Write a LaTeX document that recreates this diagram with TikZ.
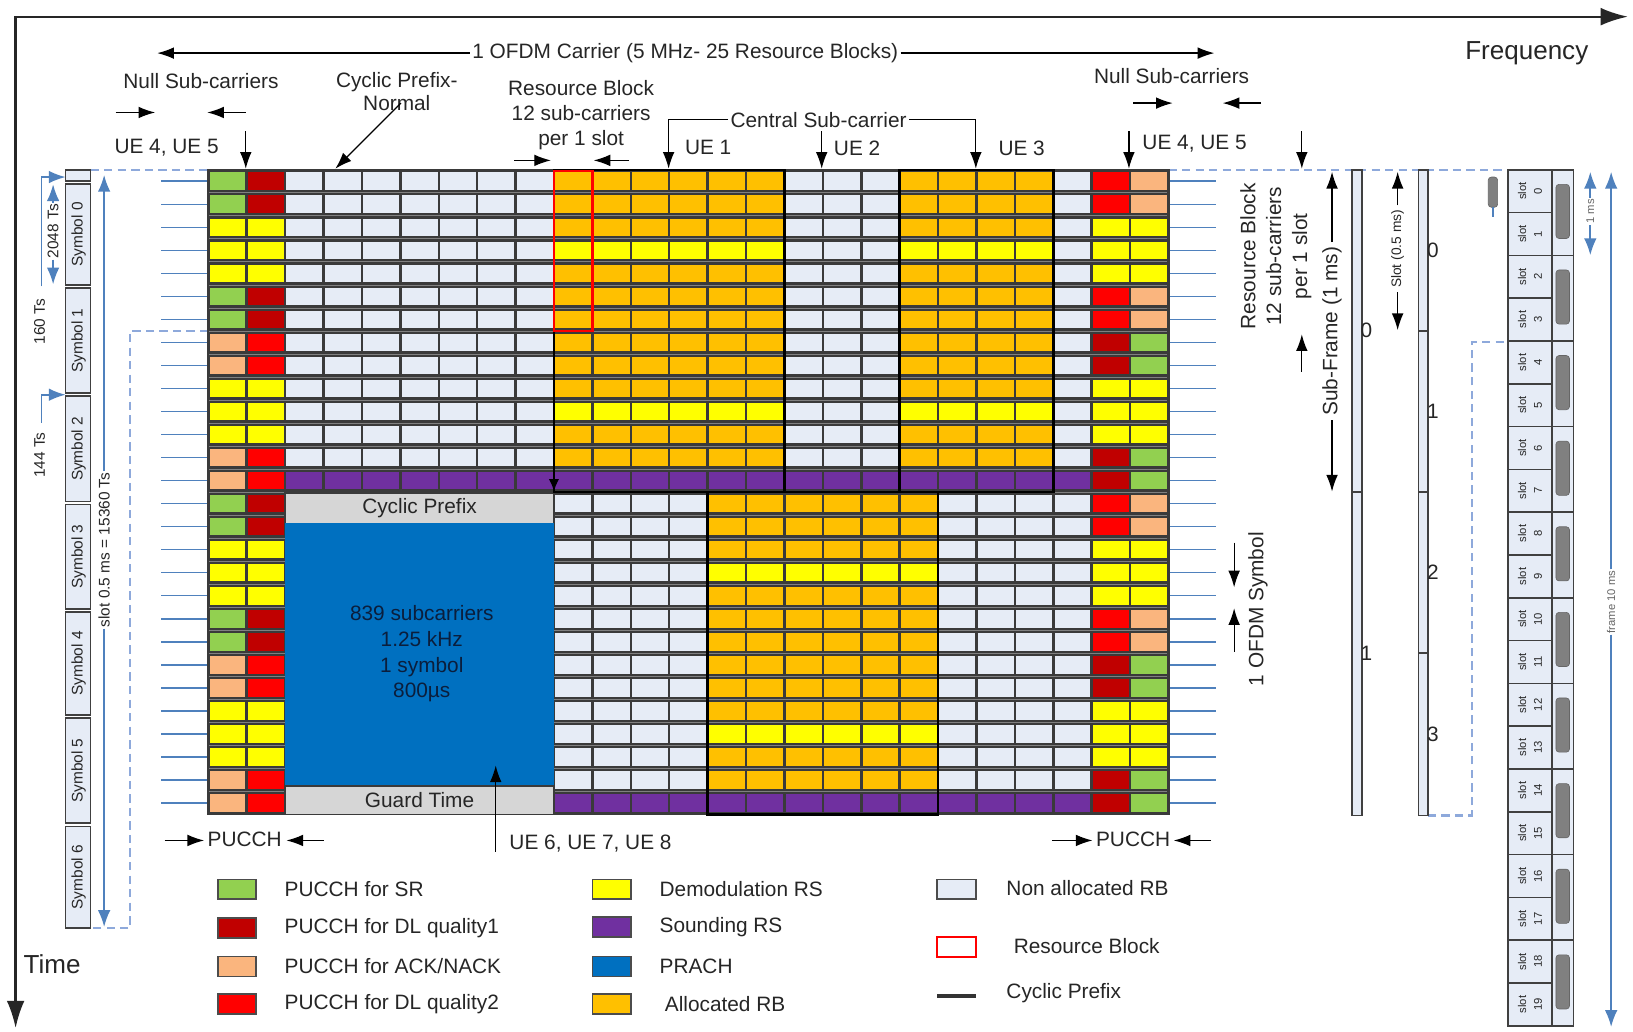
\documentclass[tikz,border=0pt]{standalone}
\usepackage{fontspec}
\setmainfont{Liberation Sans}
\usetikzlibrary{arrows.meta}
\definecolor{cSR}{HTML}{92D050}
\definecolor{cDQa}{HTML}{C00000}
\definecolor{cACK}{HTML}{FAB57E}
\definecolor{cDQb}{HTML}{FF0000}
\definecolor{cDM}{HTML}{FFFF00}
\definecolor{cSND}{HTML}{7030A0}
\definecolor{cPR}{HTML}{0070C0}
\definecolor{cAL}{HTML}{FFC000}
\definecolor{cNA}{HTML}{E6ECF6}
\definecolor{cGR}{HTML}{D6D6D6}
\definecolor{cBL}{HTML}{4F81BD}
\definecolor{cDS}{HTML}{8EA9DB}
\definecolor{cBG}{HTML}{3A3A3A}
\definecolor{cTX}{HTML}{262626}
\definecolor{cPT}{HTML}{0B1E3C}
\newcommand\gcw{36.88}
\newcommand\grh{22.107}
\newcommand\cellat[3]{\path[fill=#3] ({200+#1*\gcw+1.2},{163+#2*\grh+2.6}) rectangle ({200+(#1+1)*\gcw-1.2},{163+(#2+1)*\grh-2.6});}
\tikzset{
  lbl/.style={font=\fontsize{10}{12}\selectfont, text=cTX, inner sep=1pt},
  big/.style={font=\fontsize{12.5}{14}\selectfont, text=cTX, inner sep=1pt},
  leg/.style={font=\fontsize{10}{12}\selectfont, text=cTX, anchor=west, inner sep=0pt},
  sml/.style={font=\fontsize{7.4}{8.5}\selectfont, text=cTX, inner sep=1pt},
  tny/.style={font=\fontsize{5.4}{7.6}\selectfont, text=cTX, inner sep=0.5pt},
  arr/.style={-{Latex[length=8pt,width=5.6pt]}, line width=0.6pt, black},
  axisline/.style={{Latex[length=13pt,width=8.5pt]}-{Latex[length=13pt,width=8.5pt]}, line width=1.1pt, black!85},
  barr/.style={-{Latex[length=8pt,width=6pt]}, line width=0.8pt, cBL},
  dsh/.style={cDS, line width=1pt, dash pattern=on 4pt off 2.5pt},
  swatch/.style={draw=black!70, line width=0.8pt},
  cellbox/.style={draw=black!75, line width=0.8pt, fill=cNA},
  hatch/.style={fill=black!50, draw=black!60, line width=0.3pt, rounded corners=1.5pt},
  gline/.style={cBL, line width=0.75pt},
}
\begin{document}
\begin{tikzpicture}[x=0.5pt,y=-0.5pt]
\useasboundingbox (0,0) rectangle (1568,990);
\fill[white] (0,0) rectangle (1568,990);

% ---------------- axes
\coordinate (org) at (15,16);
\coordinate (fend) at (1563,16);
\coordinate (tend) at (15,987);
\draw[axisline] (tend) -- (org) -- (fend);
\node[big] (freq) at (1466,51) {Frequency};
\node[big] (time) at (50,926) {Time};

% ---------------- top labels
\node[lbl] (ofdm) at (658,51) {1 OFDM Carrier (5 MHz- 25 Resource Blocks)};
\coordinate (ofl) at (151,51); \coordinate (ofr) at (1166,51);
\draw[arr] (ofdm.west) -- (ofl);
\draw[arr] (ofdm.east) -- (ofr);

\node[lbl] (nsl) at (193,78) {Null Sub-carriers};
\coordinate (nsa1) at (111,108); \coordinate (nsa2) at (149,108);
\coordinate (nsb1) at (236,108); \coordinate (nsb2) at (199,108);
\draw[arr] (nsa1) -- (nsa2); \draw[arr] (nsb1) -- (nsb2);

\node[lbl, align=center, font=\fontsize{10}{11.2}\selectfont] (cpn) at (381,88) {Cyclic Prefix-\\Normal};
\coordinate (cpa) at (385,99); \coordinate (cpb) at (322,162);
\draw[arr] (cpa) -- (cpb);

\node[lbl, align=center] (rbt) at (558,111) {Resource Block\\12 sub-carriers\\per 1 slot};
\coordinate (rba1) at (494,154); \coordinate (rba2) at (529,154);
\coordinate (rbb1) at (604,154); \coordinate (rbb2) at (570,154);
\draw[arr] (rba1) -- (rba2); \draw[arr] (rbb1) -- (rbb2);

\node[lbl] (csc) at (786,115) {Central Sub-carrier};
\coordinate (csl) at (642,115); \coordinate (cslt) at (642,162);
\coordinate (csr) at (937,115); \coordinate (csrt) at (937,162);
\draw[arr] (csc.west) -- (csl) -- (cslt);
\draw[arr] (csc.east) -- (csr) -- (csrt);
\coordinate (ue2a) at (789,126); \coordinate (ue2b) at (789,162);
\draw[arr] (ue2a) -- (ue2b);

\node[lbl] (ue1) at (680,142) {UE 1};
\node[lbl] (ue2) at (823,142) {UE 2};
\node[lbl] (ue3) at (981,142) {UE 3};

\node[lbl] (ue45l) at (160,142) {UE 4, UE 5};
\coordinate (u45la) at (236,126); \coordinate (u45lb) at (236,162);
\draw[arr] (u45la) -- (u45lb);

\node[lbl] (ue45r) at (1147,138) {UE 4, UE 5};
\coordinate (u45ra) at (1084,126); \coordinate (u45rb) at (1084,162);
\draw[arr] (u45ra) -- (u45rb);

\node[lbl] (nsr) at (1125,73) {Null Sub-carriers};
\coordinate (nsc1) at (1088,99); \coordinate (nsc2) at (1126,99);
\coordinate (nsd1) at (1211,99); \coordinate (nsd2) at (1174,99);
\draw[arr] (nsc1) -- (nsc2); \draw[arr] (nsd1) -- (nsd2);

\coordinate (rbda) at (1250,126); \coordinate (rbdb) at (1250,162);
\draw[arr] (rbda) -- (rbdb);
\coordinate (rbua) at (1250,357); \coordinate (rbub) at (1250,321);
\draw[arr] (rbua) -- (rbub);
\node[lbl, rotate=90, align=center, font=\fontsize{10}{12.4}\selectfont] (rbv) at (1225,246) {Resource Block\\12 sub-carriers\\per 1 slot};

% ---------------- blue row lines
\foreach \ri in {0,...,27}{
  \draw[gline] (155,{163+(\ri+0.5)*\grh}) -- (200,{163+(\ri+0.5)*\grh});
  \draw[gline] (1122,{163+(\ri+0.5)*\grh}) -- (1168,{163+(\ri+0.5)*\grh});
}

% ---------------- dashed guides
\draw[dsh] (87,163) -- (200,163);
\draw[dsh] (1122,163) -- (1448,163);
\draw[dsh] (200,317.7) -- (125,317.7) -- (125,891) -- (87,891);
\draw[dsh] (1371,783) -- (1413,783) -- (1413,328) -- (1450,328);

% ---------------- grid
\fill[cBG] (200,163) rectangle (1122,782);
\foreach \ci in {0,...,24}{\foreach \ri in {0,...,27}{\cellat{\ci}{\ri}{cNA}}}
\foreach \g in {0,14}{%
 \foreach \k/\pA/\pB/\pC/\pD in {0/cSR/cDQa/cDQb/cACK,1/cSR/cDQa/cDQb/cACK,2/cDM/cDM/cDM/cDM,3/cDM/cDM/cDM/cDM,4/cDM/cDM/cDM/cDM,5/cSR/cDQa/cDQb/cACK,6/cSR/cDQa/cDQb/cACK,7/cACK/cDQb/cDQa/cSR,8/cACK/cDQb/cDQa/cSR,9/cDM/cDM/cDM/cDM,10/cDM/cDM/cDM/cDM,11/cDM/cDM/cDM/cDM,12/cACK/cDQb/cDQa/cSR,13/cACK/cDQb/cDQa/cSR}{%
  \pgfmathtruncatemacro\rr{\g+\k}%
  \cellat{0}{\rr}{\pA}\cellat{1}{\rr}{\pB}\cellat{23}{\rr}{\pC}\cellat{24}{\rr}{\pD}}}
% top half allocations
\foreach \ri in {0,1,2,4,5,6,7,8,9,11,12}{\foreach \ci in {9,10,11,12,13,14,18,19,20,21}{\cellat{\ci}{\ri}{cAL}}}
\foreach \ri in {3,10}{\foreach \ci in {9,10,11,12,13,14,18,19,20,21}{\cellat{\ci}{\ri}{cDM}}}
\foreach \ci in {2,...,22}{\cellat{\ci}{13}{cSND}}
% bottom half allocations
\foreach \ri in {14,15,16,18,19,20,21,22,23,25,26}{\foreach \ci in {13,...,18}{\cellat{\ci}{\ri}{cAL}}}
\foreach \ri in {17,24}{\foreach \ci in {13,...,18}{\cellat{\ci}{\ri}{cDM}}}
\foreach \ci in {9,...,22}{\cellat{\ci}{27}{cSND}}
% row separator light lines
\foreach \ri in {1,...,27}{\draw[black!50, line width=0.35pt] (200,{163+\ri*\grh}) -- (1122,{163+\ri*\grh});}
\draw[cBG, line width=1pt] (200,163) rectangle (1122,782);

% PRACH
\node[draw=cBG, line width=0.8pt, fill=cGR, minimum width=129pt, minimum height=14.5pt, inner sep=0pt, lbl] (prcp) at (402.85,488) {Cyclic Prefix};
\fill[cPR] (273.8,502.5) rectangle (531.9,755);
\node[draw=cBG, line width=0.8pt, fill=cGR, minimum width=129pt, minimum height=13.5pt, inner sep=0pt, lbl] (prgt) at (402.85,768.5) {Guard Time};
\node[lbl, align=center, text=cPT, font=\fontsize{10}{12.3}\selectfont] (prtx) at (405,628) {839 subcarriers\\1.25 kHz\\1 symbol\\800µs};

% UE block outlines and RB
\draw[black, line width=1.2pt] (531.9,163) rectangle (753.2,472.5);
\draw[black, line width=1.2pt] (863.8,163) rectangle (1011.4,472.5);
\draw[black, line width=1.2pt] (679.4,472.5) rectangle (900.7,782);
\draw[cDQb, line width=1.2pt] (531.9,164) rectangle (568.8,317.7);
\coordinate (ua1) at (531.9,440); \coordinate (ua2) at (531.9,472);
\draw[-{Latex[length=6pt,width=5pt]}, line width=1pt] (ua1) -- (ua2);

% ---------------- bottom labels
\node[lbl] (pucl) at (235,806) {PUCCH};
\coordinate (pla1) at (158,807); \coordinate (pla2) at (196,807);
\coordinate (plb1) at (311,807); \coordinate (plb2) at (275,807);
\draw[arr] (pla1) -- (pla2); \draw[arr] (plb1) -- (plb2);
\node[lbl] (pucr) at (1088,806) {PUCCH};
\coordinate (pra1) at (1010,807); \coordinate (pra2) at (1049,807);
\coordinate (prb1) at (1163,807); \coordinate (prb2) at (1127,807);
\draw[arr] (pra1) -- (pra2); \draw[arr] (prb1) -- (prb2);
\node[lbl] (ue678) at (567,810) {UE 6, UE 7, UE 8};
\coordinate (u6a) at (476,818); \coordinate (u6b) at (476,735);
\draw[arr] (u6a) -- (u6b);

% ---------------- legend
\foreach \y/\c/\t [count=\n] in {854/cSR/{PUCCH for SR}, 891/cDQa/{PUCCH for DL quality1}, 928/cACK/{PUCCH for ACK/NACK}, 964/cDQb/{PUCCH for DL quality2}}{
  \draw[swatch, fill=\c] (209,{\y-9.5}) rectangle (246,{\y+9.5});
  \node[leg] (lga\n) at (273,\y) {\t};
}
\foreach \y/\c/\t/\xx [count=\n] in {854/cDM/{Demodulation RS}/633, 890/cSND/{Sounding RS}/633, 928/cPR/{PRACH}/633, 964/cAL/{Allocated RB}/638}{
  \draw[swatch, fill=\c] (569,{\y-9.5}) rectangle (606,{\y+9.5});
  \node[leg] (lgb\n) at (\xx,\y) {\t};
}
\draw[swatch, fill=cNA] (900,844.5) rectangle (937,863.5);
\node[leg] (lgc1) at (966,853) {Non allocated RB};
\draw[cDQb, line width=1.1pt] (900,900) rectangle (937,919);
\node[leg] (lgc2) at (973,908) {Resource Block};
\draw[black!80, line width=2pt] (900,956) -- (937,956);
\node[leg] (lgc3) at (966,954) {Cyclic Prefix};

% ---------------- left symbol column
\draw[cellbox] (63,163) rectangle (87,174);
\foreach \k/\ya/\yb in {0/176.5/273.5,1/276.5/377.5,2/380.5/481.5,3/484.5/584.5,4/587.5/686.5,5/689.5/790.5,6/793.5/891}{
  \draw[cellbox] (63,\ya) rectangle (87,\yb);
  \node[sml, rotate=90] (sym\k) at (75.5,{(\ya+\yb)/2}) {Symbol \k};
}

% blue timing arrows left
\node[sml, rotate=90, fill=white, inner sep=0.5pt] (t2048) at (51,222) {2048 Ts};
\coordinate (t2a) at (51,177); \coordinate (t2b) at (51,273);
\draw[barr] (t2048.east) -- (t2a);
\draw[barr] (t2048.west) -- (t2b);
\coordinate (t160a) at (40,275); \coordinate (t160b) at (40,170); \coordinate (t160c) at (63,170);
\draw[barr] (t160a) -- (t160b) -- (t160c);
\node[sml, rotate=90] (t160) at (38,309) {160 Ts};
\coordinate (t144a) at (40,406); \coordinate (t144b) at (40,379); \coordinate (t144c) at (63,379);
\draw[barr] (t144a) -- (t144b) -- (t144c);
\node[sml, rotate=90] (t144) at (38,437) {144 Ts};
\node[sml, rotate=90, fill=white, inner sep=0.5pt] (tslot) at (100,528) {slot 0.5 ms = 15360 Ts};
\coordinate (tsa) at (100,168); \coordinate (tsb) at (100,890);
\draw[barr] (tslot.east) -- (tsa);
\draw[barr] (tslot.west) -- (tsb);

% ---------------- right: 1 OFDM symbol
\node[lbl, rotate=90] (ofs) at (1208,585) {1 OFDM Symbol};
\coordinate (ofa1) at (1185,521); \coordinate (ofa2) at (1185,564);
\coordinate (ofb1) at (1185,626); \coordinate (ofb2) at (1185,584);
\draw[arr] (ofa1) -- (ofa2); \draw[arr] (ofb1) -- (ofb2);

% sub-frame arrows & bar
\node[lbl, rotate=90, inner sep=2pt] (sfl) at (1279,318) {Sub-Frame (1 ms)};
\coordinate (sft) at (1279,165); \coordinate (sfb) at (1279,472);
\draw[arr] (sfl.east) -- (sft); \draw[arr] (sfl.west) -- (sfb);
\draw[cellbox] (1298,163) rectangle (1308,472.5);
\draw[cellbox] (1298,472.5) rectangle (1308,783);
\node[lbl, anchor=west, inner sep=0pt] (sf0) at (1306,317) {0};
\node[lbl, anchor=west, inner sep=0pt] (sf1) at (1306,627) {1};

% slot arrows & bar
\node[tny, rotate=90, font=\fontsize{6.6}{8}\selectfont, inner sep=2pt] (sll) at (1342,239) {Slot (0.5 ms)};
\coordinate (slt) at (1342,165); \coordinate (slb) at (1342,317);
\draw[arr] (sll.east) -- (slt); \draw[arr] (sll.west) -- (slb);
\foreach \k/\ya/\yb in {0/163/318,1/318/472.5,2/472.5/627,3/627/783}{
  \draw[cellbox] (1362,\ya) rectangle (1371,\yb);
  \node[lbl, anchor=west, inner sep=0pt] (slb\k) at (1370,{(\ya+\yb)/2}) {\k};
}

% small hatched mark
\fill[hatch] (1429,170) rectangle (1438,199);
\draw[cBL, line width=0.8pt] (1433.5,199) -- (1433.5,208);

% slot column
\foreach \i in {0,...,19}{
  \draw[cellbox] (1448,{163+\i*41.1}) rectangle (1490,{163+(\i+1)*41.1});
  \node[tny, rotate=90, align=center] (sc\i) at (1469,{163+(\i+0.5)*41.1}) {slot\\\i};
}
\foreach \i in {0,...,9}{
  \draw[cellbox] (1490,{163+\i*82.2}) rectangle (1511,{163+(\i+1)*82.2});
  \fill[hatch] (1494,{163+\i*82.2+14}) rectangle (1507,{163+\i*82.2+66});
}

% 1 ms and frame arrows
\node[tny, rotate=90, text=black!60, fill=white] (onems) at (1527,203) {1 ms};
\coordinate (oma) at (1527,165); \coordinate (omb) at (1527,245);
\draw[barr] (onems.east) -- (oma); \draw[barr] (onems.west) -- (omb);
\node[tny, rotate=90, text=black!60, fill=white] (frms) at (1547,578) {frame 10 ms};
\coordinate (fma) at (1547,165); \coordinate (fmb) at (1547,986);
\draw[barr] (frms.east) -- (fma); \draw[barr] (frms.west) -- (fmb);

\end{tikzpicture}
\end{document}
